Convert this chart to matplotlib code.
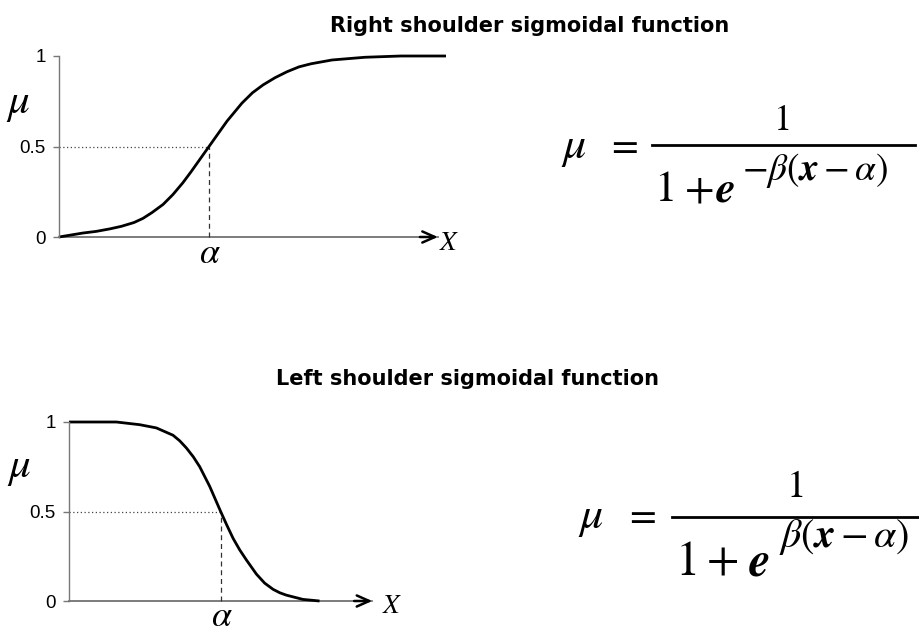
#!/usr/bin/env python3
# -*- coding: utf-8 -*-

import matplotlib
matplotlib.use('Agg')
import matplotlib.pyplot as plt
from matplotlib.lines import Line2D

############## values ##############
right_title = 'Right shoulder sigmoidal function'
left_title = 'Left shoulder sigmoidal function'

# right shoulder curve (x in units where alpha = 5)
right_x = [0, 0.8, 1.24, 1.7, 2.08, 2.5, 2.8, 3.1, 3.47, 3.8, 4.13, 4.4, 5.0, 5.6,
           6.1, 6.45, 6.8, 7.2, 7.6, 8.0, 8.4, 9.1, 10.2, 11.4, 12.9]
right_mu = [0, 0.022, 0.031, 0.045, 0.059, 0.08, 0.103, 0.135, 0.18, 0.235, 0.3, 0.36, 0.5, 0.64,
            0.74, 0.797, 0.84, 0.88, 0.913, 0.94, 0.957, 0.978, 0.993, 1.0, 1.0]

# left shoulder curve
left_x = [0, 1.56, 2.33, 2.88, 3.43, 3.65, 3.87, 4.1, 4.31, 4.64, 5.0, 5.2, 5.41, 5.63,
          5.85, 6.18, 6.45, 6.73, 6.95, 7.16, 7.71, 8.26]
left_mu = [1, 1, 0.985, 0.967, 0.926, 0.895, 0.855, 0.805, 0.75, 0.64, 0.5, 0.425, 0.35, 0.285,
           0.229, 0.15, 0.1, 0.065, 0.046, 0.033, 0.009, 0.0]

alpha_x = 5.0
half_mu = 0.5
right_x_end = 12.63   # arrow tip of the x axis
left_x_end = 10.0
ytick_vals = [0, 0.5, 1]
ytick_labels = ['0', '0.5', '1']
#########################################################

W, H = 919, 633
AXIS_GRAY = '#777777'
SERIF = 'STIXGeneral'

plt.rcParams['mathtext.fontset'] = 'custom'
plt.rcParams['mathtext.rm'] = 'STIXGeneral'
plt.rcParams['mathtext.it'] = 'STIXGeneral:italic'
plt.rcParams['mathtext.bf'] = 'STIXGeneral:italic:bold'


def fx(px):
    return px / W


def fy(py):
    return 1 - py / H


def draw_panel(ax, xs, mus, x_end, mu_pos, alpha_y, x_lab_pos):
    ax.set_xlim(0, 13)
    ax.set_ylim(0, 1)
    for side in ['top', 'right', 'bottom']:
        ax.spines[side].set_visible(False)
    ax.spines['left'].set_color(AXIS_GRAY)
    ax.spines['left'].set_linewidth(1.0)
    ax.set_xticks([])
    ax.set_yticks(ytick_vals)
    ax.set_yticklabels(ytick_labels, fontfamily='Liberation Sans', fontsize=13.5)
    ax.tick_params(axis='y', length=4, width=1, color=AXIS_GRAY, pad=5.5)

    # x axis with arrow head
    ax.plot([0, x_end], [0, 0], color='#666666', lw=1.2, clip_on=False)
    ax.annotate('', xy=(x_end, 0), xytext=(x_end - 0.6, 0),
                arrowprops=dict(arrowstyle='->,head_length=0.45,head_width=0.2',
                                color='k', lw=1.8, mutation_scale=20,
                                shrinkA=0, shrinkB=0),
                annotation_clip=False)

    # guide lines at mu = 0.5
    ax.plot([0, alpha_x], [half_mu, half_mu], color='#444444', lw=0.9,
            linestyle=(0, (1, 2)), clip_on=False)
    ax.plot([alpha_x, alpha_x], [0, half_mu], color='#333333', lw=0.9,
            linestyle=(0, (4, 3)), clip_on=False)

    ax.plot(xs, mus, color='black', lw=2.0, clip_on=False,
            solid_capstyle='butt', solid_joinstyle='round')

    ax.text(mu_pos[0], mu_pos[1], 'μ', fontfamily=SERIF, fontstyle='italic',
            fontsize=31, ha='left', va='baseline', clip_on=False)
    ax.text(alpha_x, alpha_y, 'α', fontfamily=SERIF, fontstyle='italic',
            fontsize=26, ha='center', va='baseline', clip_on=False)
    ax.text(x_lab_pos[0], x_lab_pos[1], 'X', fontfamily=SERIF, fontstyle='italic',
            fontsize=19.5, ha='left', va='baseline', clip_on=False)


def formula(fig, mu_x, eq_x, base_y, bar, bar_y, num_x, num_y, num_size,
            den_x, den_y, den_size, exp_x, exp_y, exp_size, exponent):
    fig.text(fx(mu_x), fy(base_y), 'μ', fontfamily=SERIF, fontstyle='italic',
             fontsize=33, ha='left', va='baseline')
    fig.text(fx(eq_x), fy(base_y), '=', fontfamily=SERIF, fontsize=28,
             ha='left', va='baseline')
    fig.add_artist(Line2D([fx(bar[0]), fx(bar[1])], [fy(bar_y), fy(bar_y)],
                          color='k', lw=2.0))
    fig.text(fx(num_x), fy(num_y), '1', fontfamily=SERIF, fontsize=num_size,
             ha='center', va='baseline')
    # denominator: 1 + e
    fig.text(fx(den_x[0]), fy(den_y), '1', fontfamily=SERIF, fontsize=den_size,
             ha='left', va='baseline')
    fig.text(fx(den_x[1]), fy(den_y), '+', fontfamily=SERIF, fontsize=den_size - 1,
             ha='left', va='baseline')
    fig.text(fx(den_x[2]), fy(den_y), 'e', fontfamily=SERIF, fontstyle='italic',
             fontweight='bold', fontsize=den_size, ha='left', va='baseline')
    fig.text(fx(exp_x), fy(exp_y), exponent, fontsize=exp_size,
             ha='left', va='baseline')


def main():
    fig = plt.figure(figsize=(W / 100, H / 100), dpi=100)

    # top panel: right shoulder
    ax1 = fig.add_axes([fx(59), fy(237), 390 / W, 181 / H])
    draw_panel(ax1, right_x, right_mu, right_x_end, (-1.73, 0.685), -0.144, (12.7, -0.072))

    # bottom panel: left shoulder
    ax2 = fig.add_axes([fx(69), fy(601), 394.3 / W, 179 / H])
    draw_panel(ax2, left_x, left_mu, left_x_end, (-2.01, 0.693), -0.140, (10.35, -0.067))

    # titles
    fig.text(fx(529.5), fy(32), right_title, fontfamily='DejaVu Sans', fontweight='bold',
             fontsize=15, ha='center', va='baseline')
    fig.text(fx(468), fy(385), left_title, fontfamily='DejaVu Sans', fontweight='bold',
             fontsize=15, ha='center', va='baseline')

    # formula, right shoulder
    formula(fig, 563, 611, 158, (652, 915), 145, 783, 130, 26,
            (654, 685, 716), 201, 32, 742, 180, 27, r'$-\beta(\mathbf{x}-\alpha)$')

    # formula, left shoulder
    formula(fig, 580, 629, 528, (672, 919), 517, 796, 497, 28,
            (676, 707, 749), 575, 35, 779, 547, 29, r'$\beta(\mathbf{x}-\alpha)$')

    fig.savefig('out.png', dpi=100)


if __name__ == '__main__':
    main()
